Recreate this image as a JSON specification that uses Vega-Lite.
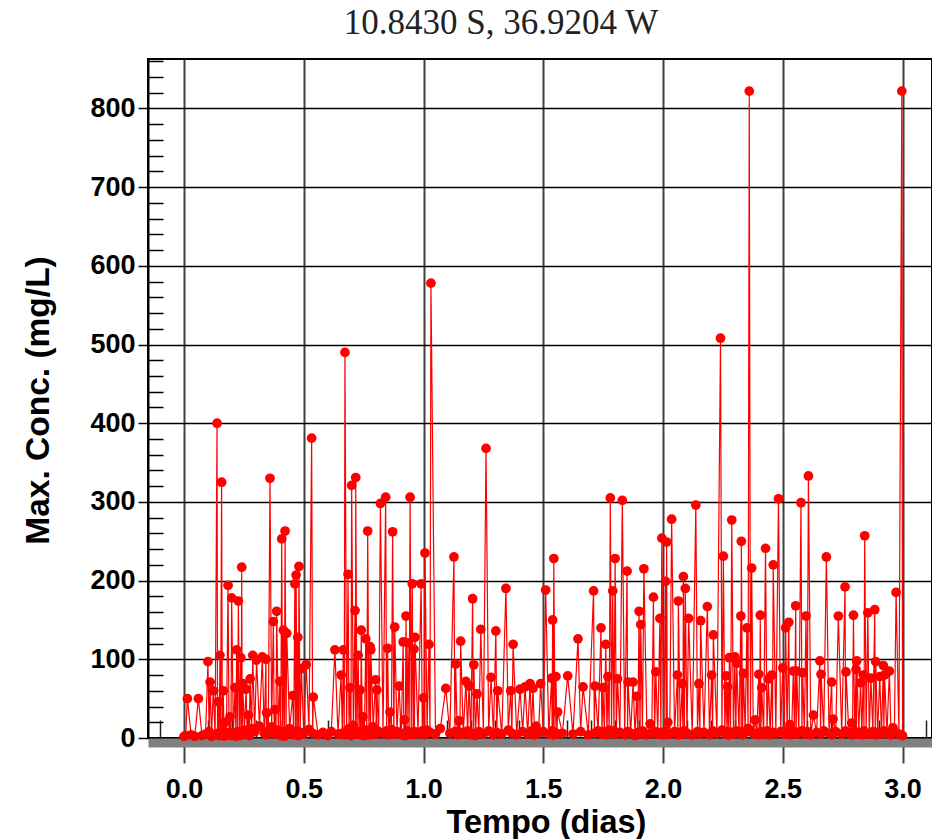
{
  "$schema": "https://vega.github.io/schema/vega-lite/v6.json",
  "autosize": "none",
  "width": 784,
  "height": 679,
  "padding": {"left": 148, "top": 59, "right": 0, "bottom": 101},
  "background": "white",
  "config": {"view": {"stroke": "black", "strokeWidth": 2}, "font": "Liberation Sans"},
  "title": {"text": "10.8430 S, 36.9204 W", "font": "Liberation Serif", "fontSize": 35, "fontWeight": "normal", "color": "#222222", "anchor": "middle", "dx": -39, "dy": 32, "offset": 22, "baseline": "alphabetic", "frame": "group"},
  "data": {"values": [
    {"t":0.000,"c":2},{"t":0.007,"c":3},{"t":0.014,"c":50},{"t":0.030,"c":4},{"t":0.045,"c":2},{"t":0.060,"c":50},{"t":0.075,"c":3},{"t":0.090,"c":5},{"t":0.100,"c":97},{"t":0.105,"c":8},
    {"t":0.109,"c":71},{"t":0.115,"c":2},{"t":0.122,"c":60},{"t":0.130,"c":4},{"t":0.138,"c":400},{"t":0.140,"c":6},{"t":0.143,"c":46},{"t":0.147,"c":3},{"t":0.150,"c":105},{"t":0.153,"c":5},
    {"t":0.157,"c":325},{"t":0.160,"c":9},{"t":0.164,"c":60},{"t":0.167,"c":2},{"t":0.171,"c":20},{"t":0.177,"c":4},{"t":0.184,"c":194},{"t":0.188,"c":7},{"t":0.192,"c":27},{"t":0.196,"c":3},
    {"t":0.199,"c":178},{"t":0.206,"c":5},{"t":0.213,"c":64},{"t":0.217,"c":2},{"t":0.220,"c":112},{"t":0.224,"c":8},{"t":0.227,"c":174},{"t":0.232,"c":3},{"t":0.237,"c":102},{"t":0.239,"c":6},
    {"t":0.241,"c":217},{"t":0.243,"c":4},{"t":0.245,"c":69},{"t":0.252,"c":10},{"t":0.259,"c":62},{"t":0.264,"c":5},{"t":0.269,"c":29},{"t":0.272,"c":3},{"t":0.276,"c":75},{"t":0.282,"c":12},
    {"t":0.287,"c":105},{"t":0.295,"c":8},{"t":0.303,"c":99},{"t":0.315,"c":15},{"t":0.327,"c":103},{"t":0.335,"c":6},{"t":0.342,"c":100},{"t":0.3435,"c":4},{"t":0.345,"c":32},{"t":0.352,"c":9},
    {"t":0.359,"c":330},{"t":0.366,"c":14},{"t":0.373,"c":148},{"t":0.377,"c":5},{"t":0.380,"c":36},{"t":0.384,"c":7},{"t":0.387,"c":161},{"t":0.394,"c":10},{"t":0.400,"c":72},{"t":0.404,"c":3},
    {"t":0.408,"c":253},{"t":0.412,"c":8},{"t":0.415,"c":137},{"t":0.419,"c":2},{"t":0.422,"c":263},{"t":0.426,"c":6},{"t":0.429,"c":133},{"t":0.441,"c":12},{"t":0.454,"c":54},{"t":0.458,"c":4},
    {"t":0.463,"c":196},{"t":0.466,"c":5},{"t":0.468,"c":207},{"t":0.472,"c":9},{"t":0.475,"c":128},{"t":0.478,"c":3},{"t":0.480,"c":218},{"t":0.485,"c":7},{"t":0.490,"c":88},{"t":0.500,"c":5},
    {"t":0.510,"c":93},{"t":0.522,"c":11},{"t":0.533,"c":381},{"t":0.537,"c":6},{"t":0.540,"c":52},{"t":0.560,"c":4},{"t":0.580,"c":7},{"t":0.600,"c":3},{"t":0.615,"c":8},{"t":0.630,"c":112},
    {"t":0.643,"c":5},{"t":0.656,"c":80},{"t":0.661,"c":6},{"t":0.665,"c":112},{"t":0.669,"c":4},{"t":0.672,"c":490},{"t":0.679,"c":9},{"t":0.685,"c":208},{"t":0.689,"c":12},{"t":0.693,"c":64},
    {"t":0.697,"c":3},{"t":0.700,"c":321},{"t":0.707,"c":16},{"t":0.714,"c":162},{"t":0.716,"c":7},{"t":0.717,"c":331},{"t":0.722,"c":5},{"t":0.727,"c":105},{"t":0.731,"c":8},{"t":0.735,"c":61},
    {"t":0.738,"c":4},{"t":0.740,"c":137},{"t":0.744,"c":6},{"t":0.747,"c":27},{"t":0.753,"c":3},{"t":0.759,"c":126},{"t":0.763,"c":10},{"t":0.767,"c":263},{"t":0.772,"c":7},{"t":0.777,"c":116},
    {"t":0.779,"c":4},{"t":0.780,"c":112},{"t":0.790,"c":14},{"t":0.800,"c":74},{"t":0.803,"c":5},{"t":0.805,"c":61},{"t":0.813,"c":8},{"t":0.820,"c":298},{"t":0.831,"c":6},{"t":0.842,"c":306},
    {"t":0.846,"c":9},{"t":0.850,"c":114},{"t":0.855,"c":4},{"t":0.860,"c":33},{"t":0.866,"c":11},{"t":0.871,"c":262},{"t":0.876,"c":5},{"t":0.880,"c":141},{"t":0.889,"c":8},{"t":0.898,"c":66},
    {"t":0.907,"c":4},{"t":0.915,"c":122},{"t":0.918,"c":6},{"t":0.920,"c":23},{"t":0.924,"c":3},{"t":0.927,"c":155},{"t":0.931,"c":9},{"t":0.935,"c":121},{"t":0.940,"c":5},{"t":0.944,"c":306},
    {"t":0.949,"c":7},{"t":0.953,"c":196},{"t":0.957,"c":4},{"t":0.960,"c":113},{"t":0.962,"c":8},{"t":0.964,"c":128},{"t":0.977,"c":6},{"t":0.990,"c":196},{"t":0.995,"c":9},{"t":1.000,"c":51},
    {"t":1.003,"c":4},{"t":1.006,"c":235},{"t":1.015,"c":10},{"t":1.023,"c":119},{"t":1.027,"c":7},{"t":1.031,"c":578},{"t":1.050,"c":5},{"t":1.070,"c":12},{"t":1.093,"c":63},{"t":1.110,"c":6},
    {"t":1.127,"c":230},{"t":1.131,"c":8},{"t":1.134,"c":94},{"t":1.141,"c":4},{"t":1.148,"c":22},{"t":1.152,"c":7},{"t":1.155,"c":123},{"t":1.166,"c":5},{"t":1.177,"c":72},{"t":1.184,"c":9},
    {"t":1.190,"c":66},{"t":1.198,"c":4},{"t":1.205,"c":177},{"t":1.208,"c":6},{"t":1.210,"c":93},{"t":1.217,"c":3},{"t":1.223,"c":56},{"t":1.231,"c":8},{"t":1.239,"c":138},{"t":1.250,"c":5},
    {"t":1.261,"c":368},{"t":1.272,"c":9},{"t":1.282,"c":77},{"t":1.292,"c":4},{"t":1.302,"c":136},{"t":1.306,"c":7},{"t":1.310,"c":60},{"t":1.327,"c":5},{"t":1.344,"c":190},{"t":1.354,"c":10},
    {"t":1.364,"c":60},{"t":1.369,"c":6},{"t":1.374,"c":119},{"t":1.389,"c":4},{"t":1.403,"c":62},{"t":1.414,"c":8},{"t":1.424,"c":65},{"t":1.435,"c":5},{"t":1.445,"c":69},{"t":1.451,"c":9},
    {"t":1.457,"c":63},{"t":1.464,"c":4},{"t":1.470,"c":15},{"t":1.480,"c":6},{"t":1.489,"c":69},{"t":1.500,"c":8},{"t":1.510,"c":188},{"t":1.523,"c":5},{"t":1.535,"c":76},{"t":1.537,"c":9},
    {"t":1.539,"c":150},{"t":1.542,"c":4},{"t":1.544,"c":228},{"t":1.549,"c":7},{"t":1.553,"c":78},{"t":1.557,"c":5},{"t":1.560,"c":33},{"t":1.580,"c":6},{"t":1.602,"c":79},{"t":1.624,"c":5},
    {"t":1.645,"c":126},{"t":1.656,"c":8},{"t":1.666,"c":65},{"t":1.688,"c":4},{"t":1.710,"c":187},{"t":1.713,"c":6},{"t":1.716,"c":66},{"t":1.729,"c":9},{"t":1.741,"c":140},{"t":1.745,"c":5},
    {"t":1.749,"c":64},{"t":1.755,"c":8},{"t":1.761,"c":119},{"t":1.766,"c":4},{"t":1.770,"c":78},{"t":1.775,"c":10},{"t":1.780,"c":305},{"t":1.785,"c":6},{"t":1.790,"c":187},{"t":1.795,"c":9},
    {"t":1.800,"c":228},{"t":1.805,"c":5},{"t":1.810,"c":75},{"t":1.820,"c":7},{"t":1.830,"c":302},{"t":1.840,"c":4},{"t":1.850,"c":212},{"t":1.852,"c":8},{"t":1.854,"c":71},{"t":1.865,"c":6},
    {"t":1.875,"c":71},{"t":1.883,"c":3},{"t":1.890,"c":53},{"t":1.895,"c":7},{"t":1.900,"c":161},{"t":1.904,"c":5},{"t":1.907,"c":144},{"t":1.914,"c":9},{"t":1.920,"c":215},{"t":1.933,"c":4},
    {"t":1.946,"c":18},{"t":1.953,"c":6},{"t":1.960,"c":179},{"t":1.965,"c":8},{"t":1.970,"c":84},{"t":1.978,"c":5},{"t":1.987,"c":152},{"t":1.991,"c":7},{"t":1.995,"c":254},{"t":2.003,"c":4},
    {"t":2.011,"c":199},{"t":2.013,"c":9},{"t":2.015,"c":249},{"t":2.018,"c":6},{"t":2.020,"c":20},{"t":2.028,"c":5},{"t":2.036,"c":278},{"t":2.048,"c":8},{"t":2.060,"c":80},{"t":2.062,"c":4},
    {"t":2.064,"c":174},{"t":2.072,"c":7},{"t":2.080,"c":69},{"t":2.083,"c":5},{"t":2.085,"c":205},{"t":2.089,"c":9},{"t":2.093,"c":190},{"t":2.100,"c":6},{"t":2.107,"c":152},{"t":2.122,"c":4},
    {"t":2.137,"c":296},{"t":2.144,"c":8},{"t":2.150,"c":69},{"t":2.154,"c":5},{"t":2.157,"c":149},{"t":2.171,"c":7},{"t":2.185,"c":167},{"t":2.194,"c":4},{"t":2.203,"c":80},{"t":2.207,"c":9},
    {"t":2.210,"c":131},{"t":2.225,"c":6},{"t":2.240,"c":508},{"t":2.246,"c":10},{"t":2.252,"c":231},{"t":2.258,"c":5},{"t":2.263,"c":79},{"t":2.267,"c":8},{"t":2.270,"c":65},{"t":2.274,"c":4},
    {"t":2.277,"c":102},{"t":2.282,"c":7},{"t":2.287,"c":277},{"t":2.294,"c":5},{"t":2.300,"c":103},{"t":2.304,"c":9},{"t":2.308,"c":95},{"t":2.317,"c":6},{"t":2.325,"c":155},{"t":2.326,"c":8},
    {"t":2.327,"c":250},{"t":2.332,"c":4},{"t":2.336,"c":82},{"t":2.343,"c":7},{"t":2.350,"c":140},{"t":2.355,"c":12},{"t":2.360,"c":822},{"t":2.365,"c":9},{"t":2.370,"c":216},{"t":2.377,"c":5},
    {"t":2.384,"c":23},{"t":2.392,"c":6},{"t":2.400,"c":81},{"t":2.403,"c":4},{"t":2.406,"c":156},{"t":2.409,"c":8},{"t":2.412,"c":64},{"t":2.420,"c":5},{"t":2.428,"c":241},{"t":2.434,"c":9},
    {"t":2.440,"c":75},{"t":2.447,"c":4},{"t":2.454,"c":80},{"t":2.457,"c":7},{"t":2.460,"c":220},{"t":2.471,"c":6},{"t":2.482,"c":304},{"t":2.491,"c":8},{"t":2.500,"c":89},{"t":2.506,"c":5},
    {"t":2.512,"c":140},{"t":2.518,"c":9},{"t":2.525,"c":147},{"t":2.528,"c":4},{"t":2.530,"c":17},{"t":2.537,"c":6},{"t":2.544,"c":85},{"t":2.549,"c":8},{"t":2.554,"c":168},{"t":2.556,"c":5},
    {"t":2.558,"c":85},{"t":2.567,"c":7},{"t":2.576,"c":299},{"t":2.580,"c":9},{"t":2.583,"c":83},{"t":2.590,"c":5},{"t":2.597,"c":155},{"t":2.602,"c":8},{"t":2.607,"c":333},{"t":2.617,"c":4},
    {"t":2.628,"c":29},{"t":2.641,"c":7},{"t":2.655,"c":98},{"t":2.658,"c":5},{"t":2.660,"c":81},{"t":2.671,"c":9},{"t":2.682,"c":230},{"t":2.693,"c":6},{"t":2.704,"c":71},{"t":2.707,"c":4},
    {"t":2.710,"c":24},{"t":2.721,"c":8},{"t":2.732,"c":155},{"t":2.746,"c":5},{"t":2.760,"c":192},{"t":2.762,"c":9},{"t":2.764,"c":84},{"t":2.776,"c":6},{"t":2.788,"c":19},{"t":2.791,"c":4},
    {"t":2.795,"c":156},{"t":2.800,"c":8},{"t":2.806,"c":87},{"t":2.807,"c":5},{"t":2.809,"c":98},{"t":2.817,"c":7},{"t":2.825,"c":70},{"t":2.830,"c":4},{"t":2.836,"c":80},{"t":2.839,"c":9},
    {"t":2.842,"c":257},{"t":2.848,"c":6},{"t":2.855,"c":159},{"t":2.861,"c":5},{"t":2.868,"c":76},{"t":2.876,"c":8},{"t":2.884,"c":163},{"t":2.886,"c":4},{"t":2.888,"c":97},{"t":2.896,"c":7},
    {"t":2.905,"c":78},{"t":2.912,"c":5},{"t":2.920,"c":92},{"t":2.922,"c":9},{"t":2.925,"c":80},{"t":2.935,"c":6},{"t":2.945,"c":85},{"t":2.952,"c":4},{"t":2.960,"c":13},{"t":2.966,"c":8},
    {"t":2.973,"c":185},{"t":2.985,"c":5},{"t":2.997,"c":822},{"t":3.000,"c":3}
  ]},
  "resolve": {"axis": {"x": "independent", "y": "independent"}},
  "layer": [
    {
      "mark": {"type": "line", "color": "#ff0000", "strokeWidth": 1.2},
      "encoding": {
        "x": {"field": "t", "type": "quantitative", "scale": {"domain": [-0.1503, 3.123], "nice": false, "zero": false},
          "axis": {"title": "Tempo (dias)", "orient": "bottom", "values": [0, 0.5, 1, 1.5, 2, 2.5, 3], "format": ".1f", "offset": 4.5,
            "domainColor": "#808080", "domainWidth": 9, "tickColor": "#404040", "tickWidth": 2, "tickSize": 20.5,
            "grid": true, "gridColor": "#404040", "gridWidth": 2,
            "labelFont": "Liberation Sans", "labelFontWeight": "bold", "labelFontSize": 27, "labelColor": "black", "labelPadding": 13, "labelFlush": false,
            "titleFont": "Liberation Sans", "titleFontSize": 32.5, "titleFontWeight": "bold", "titleColor": "black", "titleX": 398, "titleY": 90, "titleBaseline": "alphabetic"}},
        "y": {"field": "c", "type": "quantitative", "scale": {"domain": [0, 862.8], "nice": false},
          "axis": {"title": "Max. Conc. (mg/L)", "orient": "left", "values": [0, 100, 200, 300, 400, 500, 600, 700, 800],
            "grid": true, "gridColor": "black", "gridWidth": 1.5, "tickColor": "black", "tickSize": 10, "tickWidth": 1.5,
            "domainColor": "black", "domainWidth": 2,
            "labelFont": "Liberation Sans", "labelFontWeight": "bold", "labelFontSize": 27, "labelColor": "black", "labelPadding": 3,
            "titleFont": "Liberation Sans", "titleFontSize": 33.5, "titleFontWeight": "bold", "titleColor": "black", "titleX": -110, "titleY": 341, "titleBaseline": "middle", "titleAngle": -90}}
      }
    },
    {
      "mark": {"type": "point", "filled": true, "color": "#ff0000", "size": 95, "opacity": 1},
      "encoding": {
        "x": {"field": "t", "type": "quantitative", "scale": {"domain": [-0.1503, 3.123], "nice": false, "zero": false},
          "axis": {"title": null, "orient": "top", "offset": -679, "labels": false, "domain": false, "grid": false,
            "values": [-0.1, 0.1, 0.2, 0.3, 0.4, 0.6, 0.7, 0.8, 0.9, 1.1, 1.2, 1.3, 1.4, 1.6, 1.7, 1.8, 1.9, 2.1, 2.2, 2.3, 2.4, 2.6, 2.7, 2.8, 2.9, 3.1],
            "tickSize": 18, "tickColor": "#222222", "tickWidth": 1.5}},
        "y": {"field": "c", "type": "quantitative", "scale": {"domain": [0, 862.8], "nice": false},
          "axis": {"title": null, "orient": "right", "offset": -784, "labels": false, "domain": false, "grid": false,
            "values": [20, 40, 60, 80, 120, 140, 160, 180, 220, 240, 260, 280, 320, 340, 360, 380, 420, 440, 460, 480, 520, 540, 560, 580, 620, 640, 660, 680, 720, 740, 760, 780, 820, 840, 860],
            "tickSize": 15, "tickColor": "black", "tickWidth": 1.5}}
      }
    }
  ]
}
